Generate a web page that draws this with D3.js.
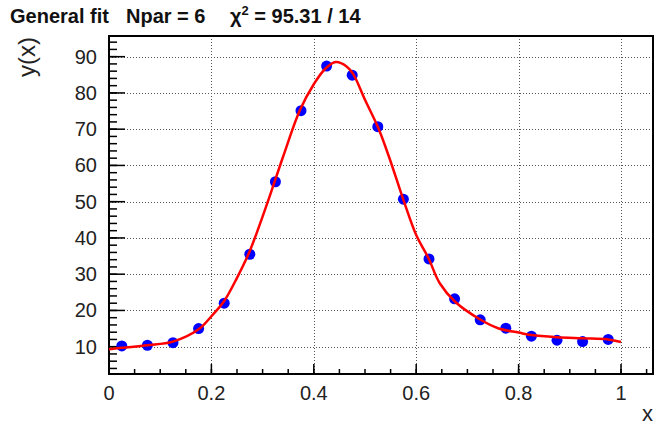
<!DOCTYPE html>
<html><head><meta charset="utf-8">
<script src="https://cdn.jsdelivr.net/npm/d3@7"></script>
<style>
html,body{margin:0;padding:0;background:#fff;}
svg{display:block;font-family:"Liberation Sans",Arial,Helvetica,sans-serif;}
</style></head>
<body>
<svg id="chart" width="656" height="425"></svg>
<script>
// data points
const dataX = [0.025,0.075,0.125,0.175,0.225,0.275,0.325,0.375,0.425,0.475,0.525,0.575,0.625,0.675,0.725,0.775,0.825,0.875,0.925,0.975];
const dataY = [10.2,10.4,11.1,15.0,22.0,35.5,55.5,75.1,87.4,84.9,70.7,50.7,34.2,23.2,17.4,15.1,12.9,11.8,11.4,12.0];
// fitted curve
const fitX = [0,0.025,0.075,0.125,0.175,0.2,0.225,0.25,0.275,0.308,0.34,0.373,0.4,0.422,0.443,0.464,0.477,0.5,0.526,0.549,0.575,0.6,0.624,0.646,0.676,0.725,0.76,0.8,0.825,0.875,0.925,0.975,1.0];
const fitY = [9.3,9.7,10.4,11.4,14.8,18.4,22.6,29.0,36.4,49.1,62.4,75.3,82.4,86.6,88.5,87.3,85.2,78.1,70.3,61.5,50.5,40.8,34.4,27.5,22.4,17.5,15.1,13.9,13.2,12.6,12.3,12.0,11.3];
const xTicks = [0,0.2,0.4,0.6,0.8,1];
const xTickLabels = ["0","0.2","0.4","0.6","0.8","1"];
const yTicks = [10,20,30,40,50,60,70,80,90];
const titleA = "General fit";
const titleB = "Npar = 6";
const titleChi = "\u03C7";
const titleRest = " = 95.31 / 14";

const svg = d3.select("#chart");
const L = 109, R = 653, T = 36, B = 374;
const x = d3.scaleLinear().domain([0, 1.0625]).range([L, R]);
const y = d3.scaleLinear().domain([2.47, 95.7]).range([B, T]);

// grid
const grid = svg.append("g").attr("stroke","#555").attr("stroke-width",1).attr("stroke-dasharray","1,2");
grid.selectAll("line.v").data(xTicks.filter(d=>d>0)).enter().append("line")
  .attr("x1",d=>Math.round(x(d))+0.5).attr("x2",d=>Math.round(x(d))+0.5).attr("y1",T).attr("y2",B);
grid.selectAll("line.h").data(yTicks).enter().append("line")
  .attr("y1",d=>Math.round(y(d))+0.5).attr("y2",d=>Math.round(y(d))+0.5).attr("x1",L).attr("x2",R);

// axes
const xMinor = d3.range(0, 1.06, 0.05);
const yMinor = d3.range(4, 95.7, 2);
const ax = svg.append("g").attr("stroke","#000").attr("stroke-width",1.5);
ax.selectAll("line.xm").data(xMinor).enter().append("line")
  .attr("x1",d=>x(d)).attr("x2",d=>x(d)).attr("y1",B).attr("y2",B-5);
ax.selectAll("line.xM").data(xTicks).enter().append("line")
  .attr("x1",d=>x(d)).attr("x2",d=>x(d)).attr("y1",B).attr("y2",B-10);
ax.selectAll("line.ym").data(yMinor).enter().append("line")
  .attr("y1",d=>y(d)).attr("y2",d=>y(d)).attr("x1",L).attr("x2",L+8);
ax.selectAll("line.yM").data(yTicks).enter().append("line")
  .attr("y1",d=>y(d)).attr("y2",d=>y(d)).attr("x1",L).attr("x2",L+16);

svg.append("rect").attr("x",L).attr("y",T).attr("width",R-L).attr("height",B-T)
  .attr("fill","none").attr("stroke","#000").attr("stroke-width",2);

// tick labels
svg.append("g").selectAll("text").data(xTicks).enter().append("text")
  .attr("x",d=>x(d)).attr("y",400).attr("text-anchor","middle")
  .attr("font-size",20).attr("fill","#222").text((d,i)=>xTickLabels[i]);
svg.append("g").selectAll("text").data(yTicks).enter().append("text")
  .attr("x",97).attr("y",d=>y(d)+7).attr("text-anchor","end")
  .attr("font-size",20).attr("fill","#222").text(d=>d);

// axis titles
svg.append("text").attr("transform","translate(35,37) rotate(-90)").attr("text-anchor","end")
  .attr("font-size",24).attr("fill","#222").text("y(x)");
svg.append("text").attr("x",653).attr("y",421).attr("text-anchor","end")
  .attr("font-size",22).attr("fill","#222").text("x");

// title
const tt = svg.append("text").attr("y",23).attr("font-size",20).attr("font-weight","bold").attr("fill","#111");
tt.append("tspan").attr("x",10).text(titleA);
tt.append("tspan").attr("x",126).text(titleB);
tt.append("tspan").attr("x",230).text(titleChi);
tt.append("tspan").attr("dy",-8).attr("font-size",13).text("2");
tt.append("tspan").attr("dy",8).text(titleRest);

// points
const pts = dataX.map((d,i)=>[d,dataY[i]]);
svg.append("g").selectAll("circle").data(pts).enter().append("circle")
  .attr("cx",d=>x(d[0])).attr("cy",d=>y(d[1])).attr("r",5.5).attr("fill","#0000ff");

// fit curve
const fit = fitX.map((d,i)=>[d,fitY[i]]);
svg.append("path").datum(fit)
  .attr("d", d3.line().x(d=>x(d[0])).y(d=>y(d[1])).curve(d3.curveCatmullRom.alpha(0.5)))
  .attr("fill","none").attr("stroke","#ff0000").attr("stroke-width",2.5);
</script>
</body></html>
